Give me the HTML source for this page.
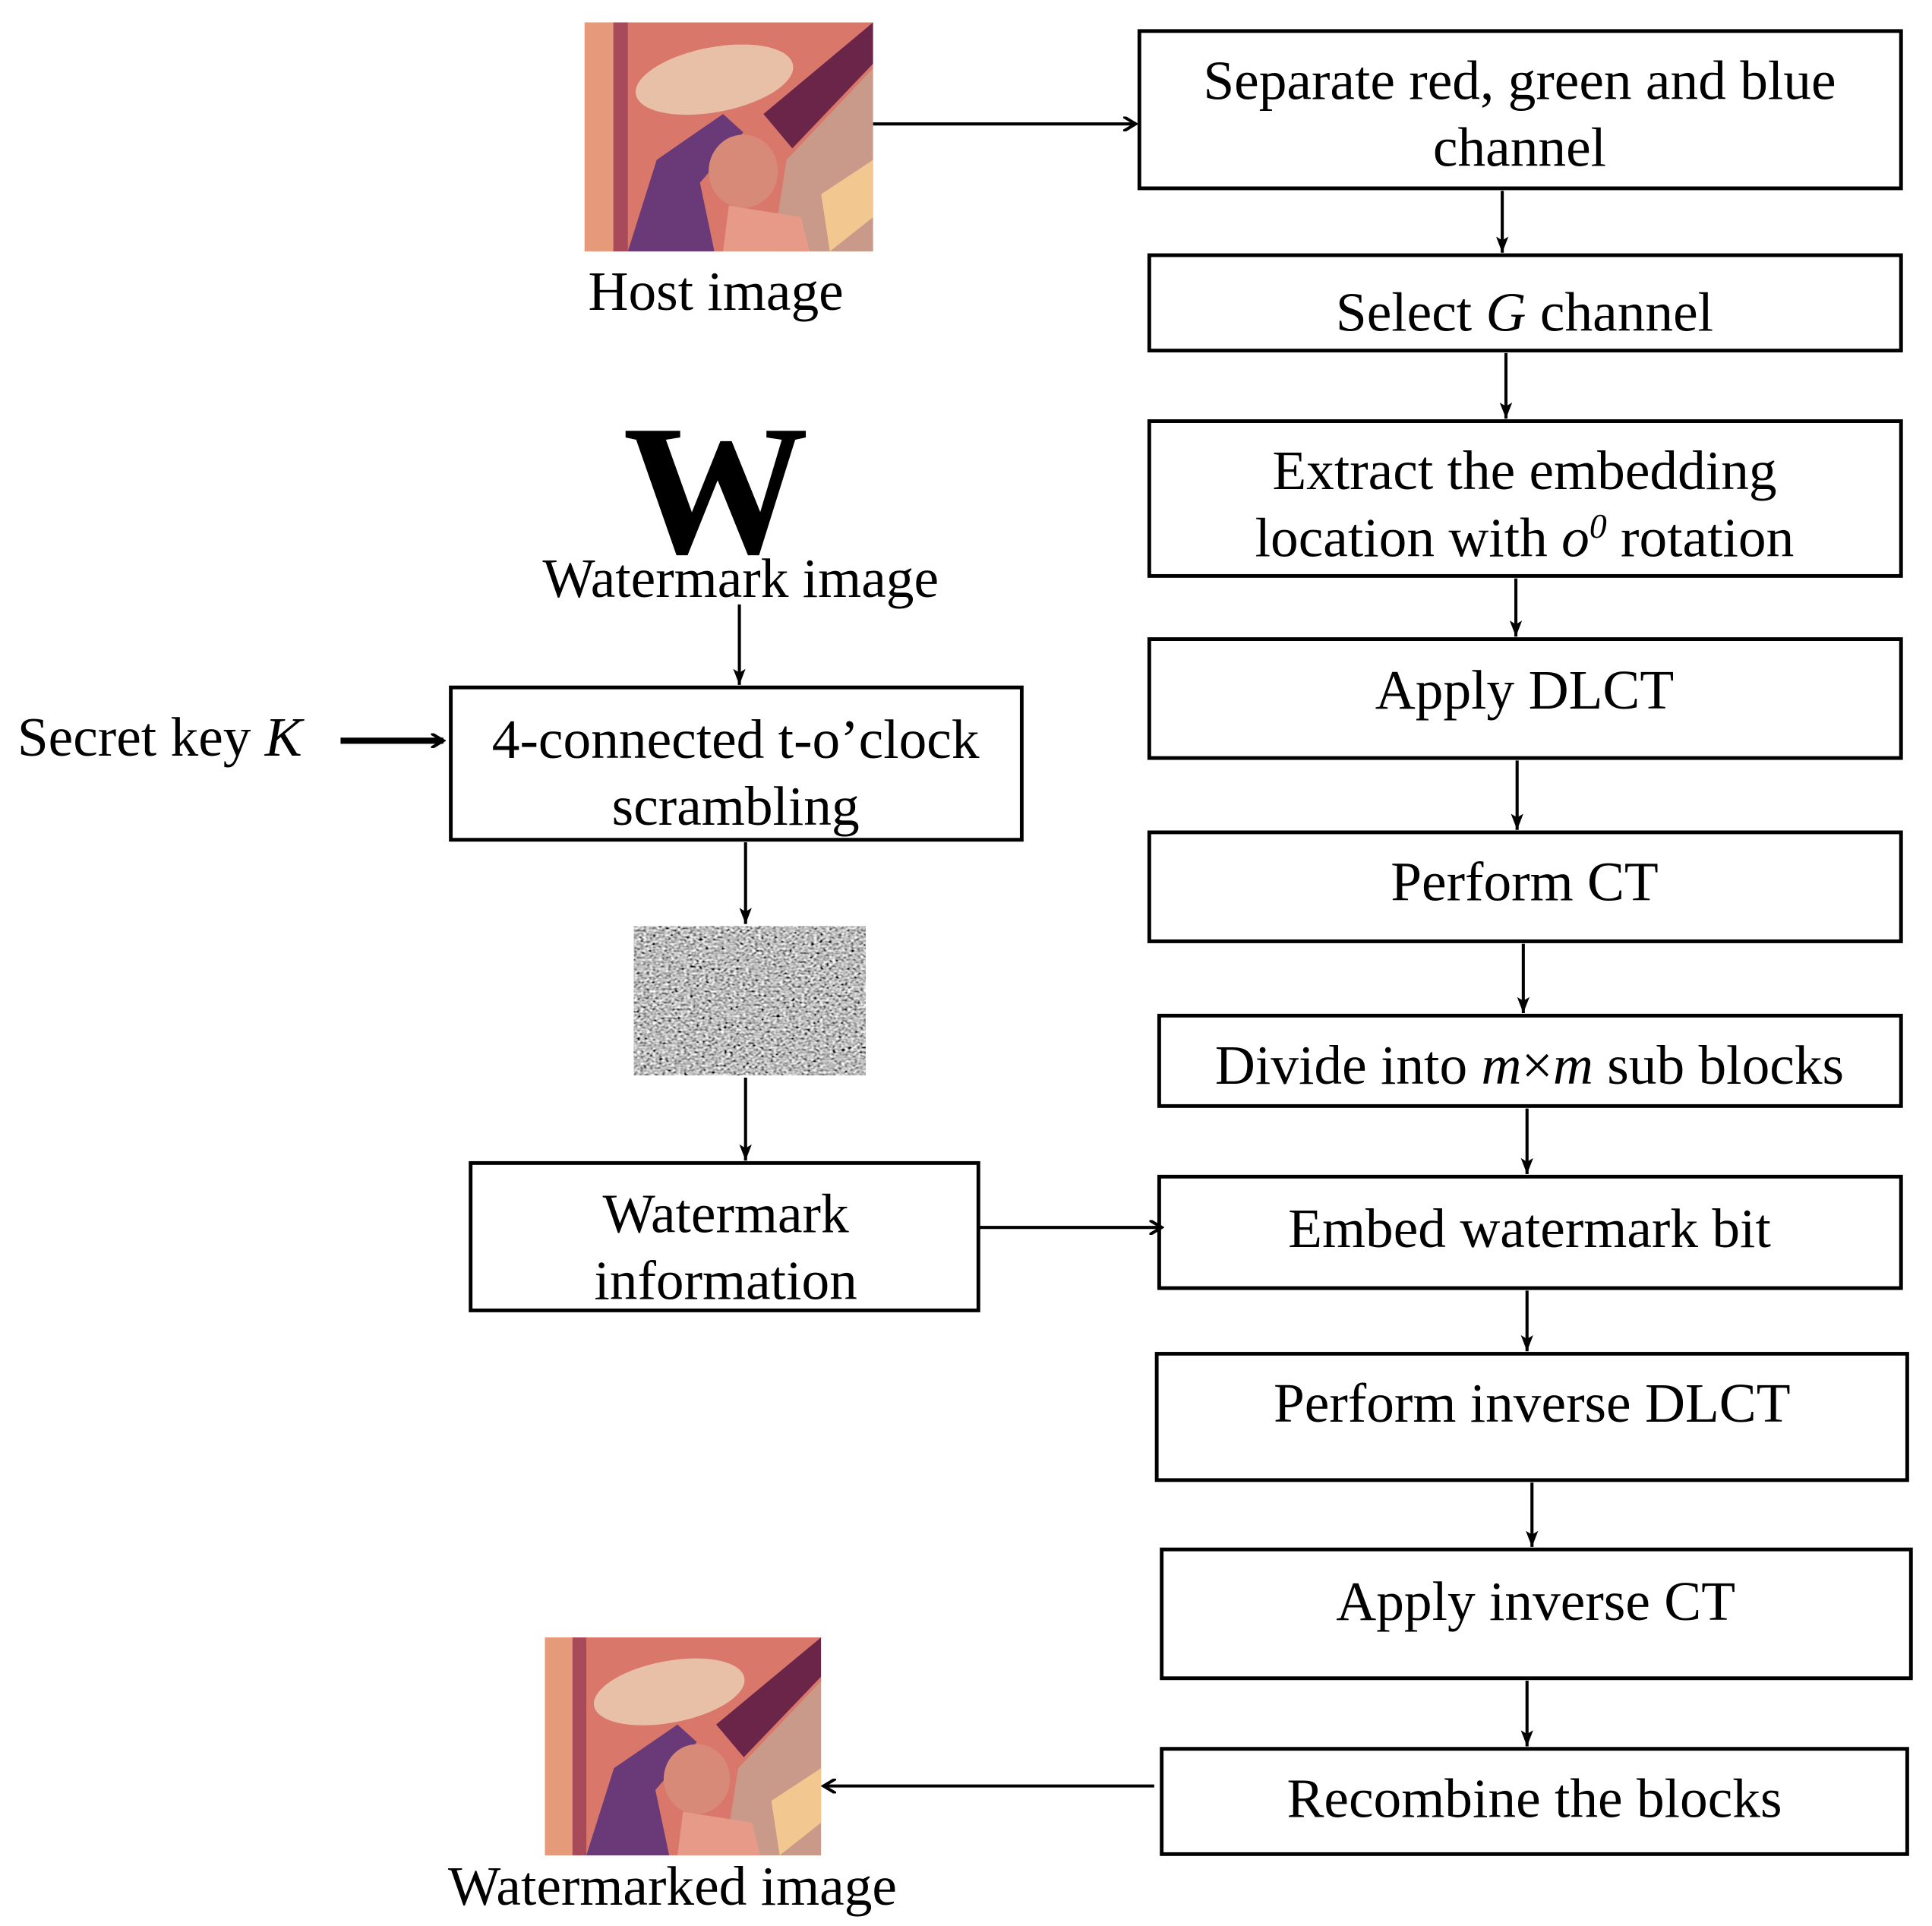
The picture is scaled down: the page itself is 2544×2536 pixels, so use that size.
<!DOCTYPE html>
<html><head><meta charset="utf-8"><style>
html,body{margin:0;padding:0;background:#fff;}
svg{display:block;}
text{font-family:"Liberation Serif",serif;font-size:45px;fill:#000;}
</style></head><body>
<svg width="2544" height="2536" viewBox="0 0 1560 1555" xmlns="http://www.w3.org/2000/svg">
<defs>
<marker id="a" markerWidth="12" markerHeight="12" refX="10" refY="6" orient="auto" markerUnits="userSpaceOnUse">
<path d="M0,0 L10,6 L0,12" fill="none" stroke="#000" stroke-width="2.5"/></marker>
<marker id="d" markerWidth="14" markerHeight="12" refX="13" refY="5" orient="auto" markerUnits="userSpaceOnUse">
<path d="M0,0 L13,5 L0,10 L3,5 Z" fill="#000"/></marker>
<filter id="n" x="0" y="0" width="100%" height="100%">
<feTurbulence type="fractalNoise" baseFrequency="0.4 0.55" numOctaves="1" seed="7"/>
<feColorMatrix type="matrix" values="0.5 0.3 0.2 0 0 0.5 0.3 0.2 0 0 0.5 0.3 0.2 0 0 0 0 0 0 1"/>
<feComponentTransfer><feFuncR type="linear" slope="3" intercept="-1.0"/><feFuncG type="linear" slope="3" intercept="-1.0"/><feFuncB type="linear" slope="3" intercept="-1.0"/><feFuncA type="linear" slope="0" intercept="1"/></feComponentTransfer>
</filter>
<g id="lena">
<rect x="0" y="0" width="100" height="100" fill="#d9786a"/>
<rect x="0" y="0" width="10" height="100" fill="#e59a7a"/>
<rect x="10" y="0" width="5" height="100" fill="#a84a5a"/>
<polygon points="70,60 100,20 100,100 65,100" fill="#c99a8a"/>
<polygon points="62,40 100,0 100,18 72,55" fill="#6a2548"/>
<polygon points="82,75 100,60 100,85 85,100" fill="#f2c890"/>
<ellipse cx="45" cy="25" rx="28" ry="14" fill="#e8c0a8" transform="rotate(-15 45 25)"/>
<polygon points="15,100 25,60 48,40 55,48 40,70 45,100" fill="#6a3a78"/>
<ellipse cx="55" cy="65" rx="12" ry="16" fill="#d88a78"/>
<polygon points="50,80 75,85 78,100 48,100" fill="#e89a88"/>
</g>
</defs>

<svg x="472" y="18" width="233" height="185" viewBox="0 0 100 100" preserveAspectRatio="none"><use href="#lena"/></svg>
<text x="578" y="250" text-anchor="middle">Host image</text>

<text x="578" y="446" text-anchor="middle" style="font-size:150px;font-weight:bold">W</text>
<text x="598" y="482" text-anchor="middle">Watermark image</text>

<text x="14" y="610">Secret key <tspan font-style="italic">K</tspan></text>
<line x1="275" y1="598" x2="358" y2="598" stroke="#000" stroke-width="5" marker-end="url(#a)"/>

<g fill="none" stroke="#000" stroke-width="3">
<rect x="920" y="25" width="615" height="127"/>
<rect x="928" y="206" width="607" height="77"/>
<rect x="928" y="340" width="607" height="125"/>
<rect x="928" y="516" width="607" height="96"/>
<rect x="928" y="672" width="607" height="88"/>
<rect x="936" y="820" width="599" height="73"/>
<rect x="936" y="950" width="599" height="90"/>
<rect x="934" y="1093" width="606" height="102"/>
<rect x="938" y="1251" width="605" height="104"/>
<rect x="938" y="1412" width="602" height="85"/>
<rect x="364" y="555" width="461" height="123"/>
<rect x="380" y="939" width="410" height="119"/>
</g>

<g stroke="#000" stroke-width="2.5" fill="none">
<line x1="705" y1="100" x2="917" y2="100" marker-end="url(#a)"/>
<line x1="790" y1="991" x2="938" y2="991" marker-end="url(#a)"/>
<line x1="932" y1="1442" x2="665" y2="1442" marker-end="url(#a)"/>
<line x1="1213" y1="154" x2="1213" y2="204" marker-end="url(#d)"/>
<line x1="1216" y1="285" x2="1216" y2="338" marker-end="url(#d)"/>
<line x1="1224" y1="467" x2="1224" y2="514" marker-end="url(#d)"/>
<line x1="1225" y1="614" x2="1225" y2="670" marker-end="url(#d)"/>
<line x1="1230" y1="762" x2="1230" y2="818" marker-end="url(#d)"/>
<line x1="1233" y1="895" x2="1233" y2="948" marker-end="url(#d)"/>
<line x1="1233" y1="1042" x2="1233" y2="1091" marker-end="url(#d)"/>
<line x1="1237" y1="1197" x2="1237" y2="1249" marker-end="url(#d)"/>
<line x1="1233" y1="1357" x2="1233" y2="1410" marker-end="url(#d)"/>
<line x1="597" y1="488" x2="597" y2="553" marker-end="url(#d)"/>
<line x1="602" y1="680" x2="602" y2="746" marker-end="url(#d)"/>
<line x1="602" y1="870" x2="602" y2="937" marker-end="url(#d)"/>
</g>

<rect x="512" y="748" width="187" height="120" fill="#777" filter="url(#n)"/>

<svg x="440" y="1322" width="223" height="176" viewBox="0 0 100 100" preserveAspectRatio="none"><use href="#lena"/></svg>
<text x="543" y="1538" text-anchor="middle">Watermarked image</text>

<g text-anchor="middle">
<text x="1227" y="80">Separate red, green and blue</text>
<text x="1227" y="134">channel</text>
<text x="1231" y="267">Select <tspan font-style="italic">G</tspan> channel</text>
<text x="1231" y="395">Extract the embedding</text>
<text x="1231" y="449">location with <tspan font-style="italic">o</tspan><tspan font-style="italic" font-size="28" dy="-15">0</tspan><tspan dy="15"> rotation</tspan></text>
<text x="1231" y="572">Apply DLCT</text>
<text x="1231" y="727">Perform CT</text>
<text x="1235" y="875">Divide into <tspan font-style="italic">m</tspan>×<tspan font-style="italic">m</tspan> sub blocks</text>
<text x="1235" y="1007">Embed watermark bit</text>
<text x="1237" y="1148">Perform inverse DLCT</text>
<text x="1240" y="1308">Apply inverse CT</text>
<text x="1239" y="1467">Recombine the blocks</text>
<text x="594" y="612">4-connected t-o’clock</text>
<text x="594" y="666">scrambling</text>
<text x="586" y="995">Watermark</text>
<text x="586" y="1049">information</text>
</g>
</svg>
</body></html>
